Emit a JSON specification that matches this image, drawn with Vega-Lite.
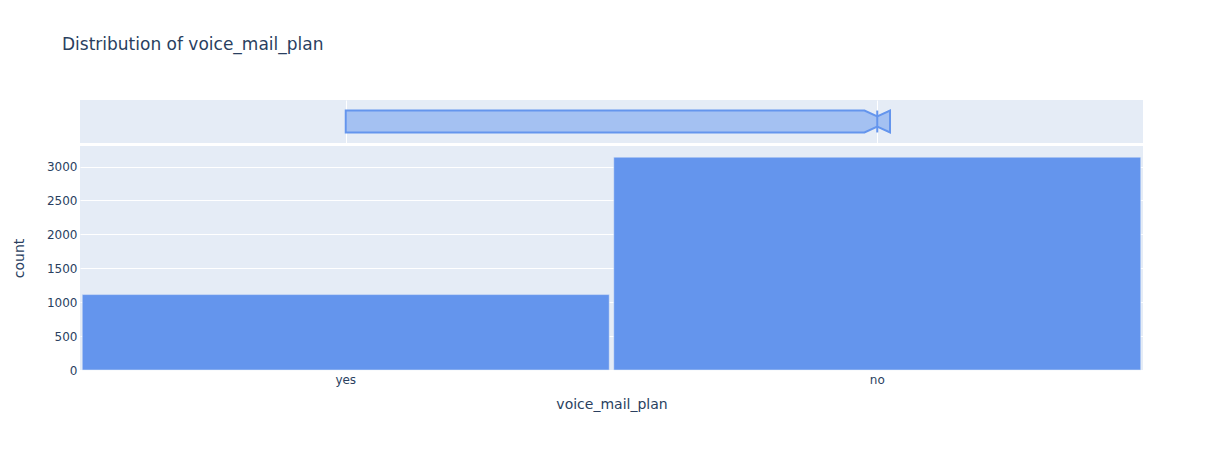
{
  "$schema": "https://vega.github.io/schema/vega-lite/v6.json",
  "background": "white",
  "padding": {"left": 12, "top": 36, "right": 5, "bottom": 5},
  "title": {
    "text": "Distribution of voice_mail_plan",
    "anchor": "start",
    "font": "DejaVu Sans",
    "fontSize": 17,
    "fontWeight": "normal",
    "color": "#2a3f5f",
    "offset": 46,
    "dx": 50
  },
  "config": {
    "view": {"stroke": null, "fill": "#E5ECF6"},
    "font": "DejaVu Sans",
    "axis": {
      "labelFont": "DejaVu Sans",
      "titleFont": "DejaVu Sans",
      "labelColor": "#2a3f5f",
      "titleColor": "#2a3f5f",
      "labelFontSize": 12,
      "titleFontSize": 14,
      "titleFontWeight": "normal",
      "gridColor": "white",
      "gridWidth": 1,
      "domain": false,
      "ticks": false
    }
  },
  "spacing": 3,
  "vconcat": [
    {
      "width": 1063,
      "height": 43,
      "layer": [
        {
          "data": {"values": [
            {"stat": "q1", "x": 0, "top": 0.755, "bottom": 0.245},
            {"stat": "notch_lo", "x": 0.976, "top": 0.755, "bottom": 0.245},
            {"stat": "median", "x": 1, "top": 0.62, "bottom": 0.38},
            {"stat": "notch_hi", "x": 1.024, "top": 0.755, "bottom": 0.245}
          ]},
          "mark": {"type": "area", "fill": "#6495ED", "fillOpacity": 0.5, "stroke": "#6495ED", "strokeWidth": 2, "orient": "vertical"},
          "encoding": {
            "x": {"field": "x", "type": "quantitative", "scale": {"domain": [-0.5, 1.5], "nice": false, "zero": false},
                  "axis": {"values": [0, 1], "grid": true, "labels": false, "title": null}},
            "y": {"field": "top", "type": "quantitative", "scale": {"domain": [0, 1], "nice": false}, "axis": null},
            "y2": {"field": "bottom"}
          }
        },
        {
          "data": {"values": [{"stat": "q3", "x": 1, "top": 0.755, "bottom": 0.245}]},
          "mark": {"type": "rule", "stroke": "#6495ED", "strokeWidth": 2},
          "encoding": {
            "x": {"field": "x", "type": "quantitative"},
            "y": {"field": "top", "type": "quantitative"},
            "y2": {"field": "bottom"}
          }
        }
      ]
    },
    {
      "width": 1063,
      "height": 224,
      "data": {"values": [
        {"voice_mail_plan": "yes", "count": 1112},
        {"voice_mail_plan": "no", "count": 3138}
      ]},
      "mark": {"type": "bar", "color": "#6495ED", "stroke": "#E5ECF6", "strokeWidth": 0.5},
      "encoding": {
        "x": {"field": "voice_mail_plan", "type": "nominal", "sort": ["yes", "no"],
              "scale": {"paddingInner": 0.0085, "paddingOuter": 0.00425},
              "axis": {"labelAngle": 0, "grid": false, "labelPadding": 4, "titlePadding": 12, "title": "voice_mail_plan"}},
        "y": {"field": "count", "type": "quantitative", "scale": {"domain": [0, 3303], "nice": false},
              "axis": {"values": [0, 500, 1000, 1500, 2000, 2500, 3000], "format": "d", "labelPadding": 3,
                       "minExtent": 44, "maxExtent": 44, "titlePadding": 10, "title": "count"}}
      }
    }
  ]
}
